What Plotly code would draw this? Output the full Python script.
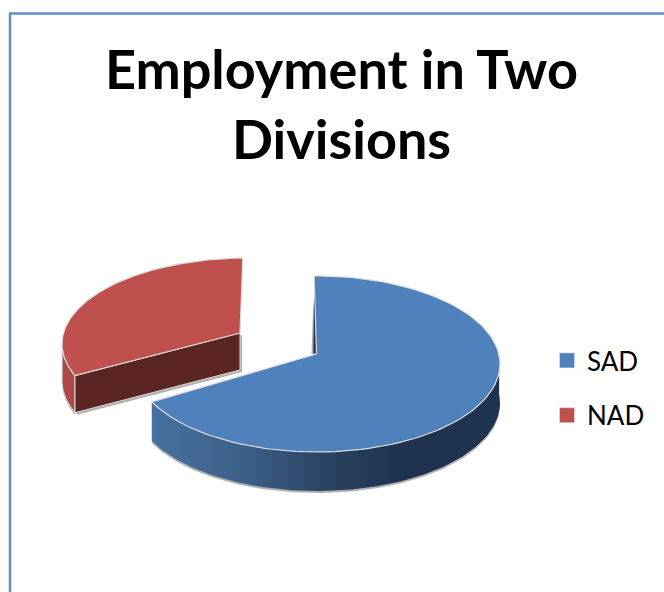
import numpy as np
import plotly.graph_objects as go

# Data
CATEGORIES = ["SAD", "NAD"]
VALUES = [68, 32]
TITLE = "Employment in Two<br>Divisions"

# Colours
TOP = {"SAD": "#4f81bd", "NAD": "#c0504d"}
CUT = {"SAD": "#1f3350", "NAD": "#5a2522"}
RIM = "#dcdcdc"
BORDER = "#5f8dc9"

# Projection of the tilted disc, per slice (pixels); warp = angle correction at slice start / end
GEOM = {
    "SAD": dict(cx=317, cy=364, rx=183, ry=88, apex=(316.5, 354), depth=39, warp=(-0.9, -0.3)),
    "NAD": dict(cx=247, cy=344, rx=185, ry=86, apex=(240, 333), depth=37, warp=(3.6, -1.3)),
}
W, H = 664, 592

share = np.array(VALUES, float) / sum(VALUES) * 360
spans = {"SAD": (0.0, share[0]), "NAD": (share[0], 360.0)}


def rim(g, span, a0, a1, n=120):
    a = np.linspace(a0, a1, n)
    f = (a - span[0]) / (span[1] - span[0])
    t = np.radians(a + g["warp"][0] + (g["warp"][1] - g["warp"][0]) * f)
    return g["cx"] + g["rx"] * np.sin(t), g["cy"] - g["ry"] * np.cos(t)


def poly(x, y, fill, line=None, lw=1, **kw):
    return go.Scatter(
        x=list(x), y=list(y), mode="lines", fill="toself", fillcolor=fill,
        line=dict(color=line or "rgba(0,0,0,0)", width=lw),
        hoverinfo="skip", showlegend=False, **kw)


def wall_xy(g, span, a0, a1, shift=0.0):
    x, y = rim(g, span, a0, a1)
    return (np.r_[x, x[::-1], x[0]], np.r_[y + shift, y[::-1] + g["depth"] + shift, y[0] + shift])


def cut_xy(g, span, a, shift=0.0):
    x, y = rim(g, span, a, a, 1)
    ax, ay = g["apex"]
    d = g["depth"]
    return ([x[0], ax, ax, x[0], x[0]], [y[0] + shift, ay + shift, ay + d + shift, y[0] + d + shift, y[0] + shift])


fig = go.Figure()

# NAD slice
g = GEOM["NAD"]
sp = spans["NAD"]
a0, a1 = sp
wx, wy = wall_xy(g, sp, a0, 266)
sx, sy = wall_xy(g, sp, a0, 266, 2)
cx_, cy_ = cut_xy(g, sp, a0)
csx, csy = cut_xy(g, sp, a0, 2)
fig.add_trace(poly(sx, sy, "rgba(110,110,110,.55)"))
fig.add_trace(poly(np.array(csx) + 2, csy, "rgba(110,110,110,.55)"))
fig.add_trace(poly(wx, wy, "#ad4a47", RIM))
fig.add_trace(poly(cx_, cy_, CUT["NAD"], RIM))
x, y = rim(g, sp, a0, a1)
ax, ay = g["apex"]
fig.add_trace(poly(np.r_[ax, x, ax], np.r_[ay, y, ay], TOP["NAD"], RIM, 1.2))

# SAD slice
g = GEOM["SAD"]
sp = spans["SAD"]
a0, a1 = sp
ax, ay = g["apex"]
x, y = rim(g, sp, a0, a1)
# thin sliver of the rear cut face and its shadow
fig.add_trace(poly([x[0] - 1, ax - 5, ax - 1, x[0]], [y[0] + 32, ay, ay, y[0] + 20], "rgba(110,110,110,.6)"))
fig.add_trace(poly([x[0], ax - 3, ax, x[0]], [y[0] + 10, ay - 1, ay, y[0]], CUT["SAD"]))
wx, wy = wall_xy(g, sp, 85, a1)
sx, sy = wall_xy(g, sp, 85, a1, 2)
fig.add_trace(poly(sx, sy, "rgba(110,110,110,.55)"))
fig.add_trace(go.Scatter(
    x=list(wx), y=list(wy), mode="lines", fill="toself", hoverinfo="skip", showlegend=False,
    line=dict(color="rgba(0,0,0,0)", width=0),
    fillgradient=dict(type="horizontal", start=153, stop=500, colorscale=[
        [0, "#47719f"], [0.25, "#3d6189"], [0.5, "#2a4362"], [0.7, "#1f3350"], [1, "#1f3350"]]),
))
fig.add_trace(poly(np.r_[ax, x, ax], np.r_[ay, y, ay], TOP["SAD"], RIM, 1.2))

# Legend entries
for name in CATEGORIES:
    fig.add_trace(go.Scatter(
        x=[None], y=[None], mode="markers", name=name, legendgroup=name,
        marker=dict(symbol="square", size=15, color=TOP[name], line=dict(color="#e8e8e8", width=0.5)),
    ))

fig.update_layout(
    width=W, height=H, margin=dict(l=0, r=0, t=0, b=0),
    paper_bgcolor="white", plot_bgcolor="white",
    title=dict(text=TITLE, x=341.5 / W, xanchor="center", y=1 - 89 / H, yanchor="top",
               font=dict(family="Lato", size=54, color="black", weight="bold")),
    xaxis=dict(range=[0, W], visible=False, fixedrange=True),
    yaxis=dict(range=[H, 0], visible=False, fixedrange=True),
    legend=dict(x=547 / W, xanchor="left", y=1 - 337 / H, yanchor="top",
                font=dict(family="Lato", size=26, color="black"),
                tracegroupgap=18, itemsizing="trace", bgcolor="rgba(0,0,0,0)"),
    shapes=[
        dict(type="line", xref="paper", yref="paper", x0=10 / W, x1=10 / W, y0=0, y1=1 - 13.5 / H,
             line=dict(color=BORDER, width=2.5)),
        dict(type="line", xref="paper", yref="paper", x0=9 / W, x1=1, y0=1 - 13.5 / H, y1=1 - 13.5 / H,
             line=dict(color=BORDER, width=2.5)),
    ],
)
fig.write_html("out.html", config=dict(displayModeBar=False),
               post_script="document.body.style.margin='0';document.body.style.overflow='hidden';")
